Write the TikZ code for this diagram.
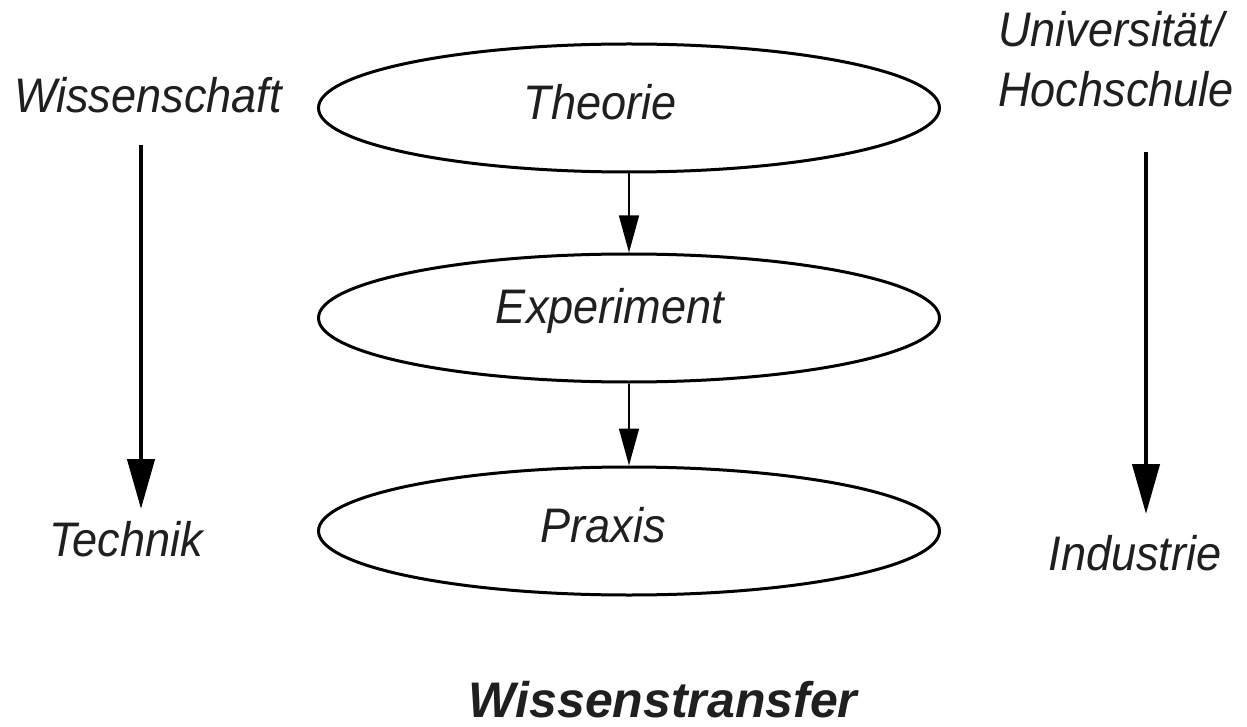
\documentclass[tikz,border=0pt]{standalone}
\usepackage{fontspec}
\setmainfont{Liberation Sans}
\newfontfamily\condit[FakeStretch=0.93]{Liberation Sans}
\usetikzlibrary{shapes.geometric,arrows.meta}
\begin{document}
\begin{tikzpicture}[x=1pt,y=-1pt,
  oval/.style={draw=black,line width=3pt,ellipse,minimum width=621pt,minimum height=128pt,inner sep=0pt},
  lbl/.style={inner sep=0pt,font=\condit\itshape\fontsize{48.5}{60}\selectfont,text=black!88},
  thin/.style={line width=1.5pt,-{Triangle[width=20pt,length=37pt]}},
  thick/.style={line width=4.5pt,-{Triangle[width=27pt,length=50pt]}}]
\useasboundingbox (0,0) rectangle (1247,727);
% ellipses
\node[oval] (theorie) at (629,108) {};
\node[oval] (experiment) at (629,318) {};
\node[oval] (praxis) at (629,531) {};
% texts in ellipses
\node[lbl,anchor=base] (ttheorie) at (600,120) {Theorie};
\node[lbl,anchor=base] (texperiment) at (610,323) {Experiment};
\node[lbl,anchor=base] (tpraxis) at (603,542) {Praxis};
% inner arrows
\draw[thin] (theorie.south) -- (experiment.north);
\draw[thin] (experiment.south) -- (praxis.north);
% side labels
\node[lbl,anchor=base] (wiss) at (148,113) {Wissenschaft};
\node[lbl,anchor=base] (technik) at (126,556) {Technik};
\node[lbl,anchor=base west,align=left] (uni) at (998,107) {Universität/\\Hochschule};
\node[lbl,anchor=base] (industrie) at (1135,570) {Industrie};
% side arrows
\coordinate (ls) at (141,145);
\coordinate (le) at (141,509);
\coordinate (rs) at (1146,152);
\coordinate (re) at (1146,514);
\draw[thick] (ls) -- (le);
\draw[thick] (rs) -- (re);
% title
\node[inner sep=0pt,anchor=base,font=\bfseries\itshape\fontsize{50}{60}\selectfont,text=black!88] (title) at (663,717) {Wissenstransfer};
\end{tikzpicture}
\end{document}
